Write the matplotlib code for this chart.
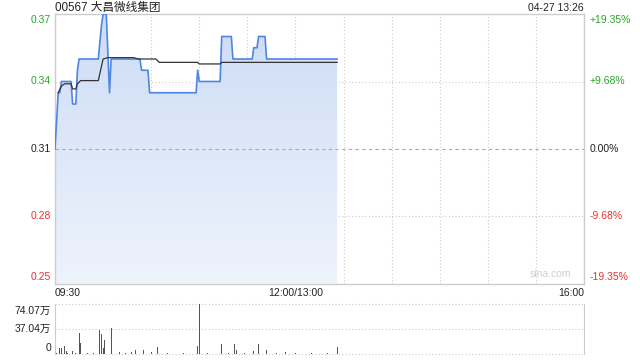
import numpy as np
import matplotlib
matplotlib.use("Agg")
import matplotlib.pyplot as plt
from matplotlib.patches import Polygon
from matplotlib.colors import LinearSegmentedColormap

plt.rcParams['font.family'] = ['Liberation Sans', 'Noto Sans CJK SC', 'DejaVu Sans']

# ---- data ----
title = "00567 大昌微线集团"
stamp = "04-27 13:26"
prev_close = 0.31
price_ticks = [0.37, 0.34, 0.31, 0.28, 0.25]
pct_labels = ["+19.35%", "+9.68%", "0.00%", "-9.68%", "-19.35%"]
time_labels = ["09:30", "12:00/13:00", "16:00"]
time_pos = [0, 150, 330]

# minutes since 09:30 (trading minutes, lunch removed)
price_min = [0, 2, 3, 4, 10, 11, 13, 14, 15, 27, 29, 30, 32, 34, 35, 53, 54, 58,
             59, 88, 89, 90, 103, 104, 110, 111, 123, 124, 126, 127, 131, 132, 176]
price = [0.31, 0.335, 0.335, 0.34, 0.34, 0.33, 0.33, 0.345, 0.35, 0.35, 0.365, 0.37,
         0.37, 0.335, 0.35, 0.35, 0.345, 0.345, 0.335, 0.335, 0.345, 0.34, 0.34, 0.36,
         0.36, 0.35, 0.35, 0.355, 0.355, 0.36, 0.36, 0.35, 0.35]

avg_min = [2, 4, 6, 10, 11, 13, 14, 16, 27, 30, 33, 49, 52, 63, 65, 89, 90, 103, 104, 176]
avg_price = [0.335, 0.338, 0.339, 0.339, 0.3367, 0.3367, 0.339, 0.3404, 0.3404, 0.35,
             0.3506, 0.3506, 0.35, 0.35, 0.3485, 0.3485, 0.3478, 0.3478, 0.3485, 0.3485]

vol_min = [1, 3, 4, 5, 6, 7, 8, 11, 13, 15, 16, 20, 24, 28, 29, 30, 31, 35, 40, 44,
           48, 50, 55, 60, 64, 70, 80, 89, 90, 95, 104, 108, 112, 113, 118, 124, 127,
           132, 138, 144, 150, 160, 170, 176]
vol = [1.0, 9.0, 9.0, 10.5, 11.5, 4.0, 1.5, 5.0, 1.0, 31.5, 16.5, 1.0, 1.0, 35.0, 29.0,
       9.0, 20.0, 38.0, 3.0, 1.0, 3.0, 6.5, 6.5, 3.0, 10.0, 1.0, 1.0, 12.5, 74.07, 1.0,
       15.5, 1.0, 15.5, 6.5, 1.0, 5.0, 15.5, 6.5, 1.0, 3.0, 1.0, 1.0, 1.0, 10.5]
vol_ticks = [0, 37.04, 74.07]
vol_tick_labels = ["0", "37.04万", "74.07万"]

# ---- style ----
GREEN = "#2aa52a"
RED = "#f03030"
GRID = "#cccccc"
FRAME = "#cccccc"
TXT = "#222222"

fig = plt.figure(figsize=(6.4, 3.6), dpi=100)
ax = fig.add_axes([55/640, 1-284/360, 529/640, 270/360])
axv = fig.add_axes([55/640, 1-354/360, 529/640, 50/360])

ymin, ymax = 0.25, 0.37

# gradient fill under price
verts = list(zip(price_min, price)) + [(price_min[-1], ymin), (price_min[0], ymin)]
poly = Polygon(verts, closed=True, facecolor='none', edgecolor='none')
ax.add_patch(poly)
cmap = LinearSegmentedColormap.from_list('g', ['#eef3fc', '#cddcf5'])
grad = np.linspace(0, 1, 256).reshape(-1, 1)
im = ax.imshow(grad, extent=[0, price_min[-1], ymin, ymax], origin='lower',
               aspect='auto', cmap=cmap, zorder=1)
im.set_clip_path(poly)

ax.plot(price_min, price, color="#4f86e0", lw=1.2, zorder=3)
ax.plot(avg_min, avg_price, color="#333333", lw=0.9, zorder=4)

ax.set_xlim(0, 330)
ax.set_ylim(ymin, ymax)
for m in range(30, 330, 30):
    ax.axvline(m, color=GRID, lw=0.8, ls=(0, (1, 2)), zorder=0)
for v in [0.34, 0.28]:
    ax.axhline(v, color=GRID, lw=0.8, ls=(0, (1, 2)), zorder=0)
ax.axhline(prev_close, color="#aaaaaa", lw=0.8, ls=(0, (3, 3)), zorder=2)

ax.set_xticks([])
ax.set_yticks([])
for s in ax.spines.values():
    s.set_color(FRAME)
    s.set_linewidth(1.0)

# left/right labels
lcolors = [GREEN, GREEN, TXT, RED, RED]
offs = [-6, 0, 0, 0, 7]
for v, lab, c, o in zip(price_ticks, pct_labels, lcolors, offs):
    ax.annotate(f"{v:.2f}", xy=(0, v), xycoords=('axes fraction', 'data'),
                xytext=(-4, o), textcoords='offset pixels', ha='right', va='center',
                fontsize=7.5, color=c)
    ax.annotate(lab, xy=(1, v), xycoords=('axes fraction', 'data'),
                xytext=(6, o), textcoords='offset pixels', ha='left', va='center',
                fontsize=7.5, color=c)

ax.annotate(title, xy=(0, 1), xycoords='axes fraction', xytext=(0, 3),
            textcoords='offset pixels', ha='left', va='baseline', fontsize=8.4, color=TXT)
ax.annotate(stamp, xy=(1, 1), xycoords='axes fraction', xytext=(0, 3),
            textcoords='offset pixels', ha='right', va='baseline', fontsize=7.5, color=TXT)
ax.text(0.975, 0.02, "sina.com", transform=ax.transAxes, ha='right', va='bottom',
        fontsize=7.5, color="#cfcfcf")

has = ['left', 'center', 'right']
for p, lab, h in zip(time_pos, time_labels, has):
    ax.annotate(lab, xy=(p, 0), xycoords=('data', 'axes fraction'),
                xytext=(0, -9), textcoords='offset pixels', ha=h, va='center',
                fontsize=7.5, color=TXT)

# volume
axv.bar(vol_min, vol, width=0.6, color="#555555", zorder=3)
axv.set_xlim(0, 330)
axv.set_ylim(0, 74.07)
for v in vol_ticks:
    axv.axhline(v, color=GRID, lw=0.8, ls=(0, (1, 2)), zorder=0, clip_on=False)
axv.set_xticks([])
axv.set_yticks([])
for k in ['top', 'bottom']:
    axv.spines[k].set_visible(False)
for k in ['left', 'right']:
    axv.spines[k].set_color(FRAME)
voffs = [6, 0, -7]
for v, lab, o in zip(vol_ticks, vol_tick_labels, voffs):
    axv.annotate(lab, xy=(0, v), xycoords=('axes fraction', 'data'),
                 xytext=(-4, o), textcoords='offset pixels', ha='right', va='center',
                 fontsize=7.5, color=TXT)

fig.savefig("out.png", dpi=100)
